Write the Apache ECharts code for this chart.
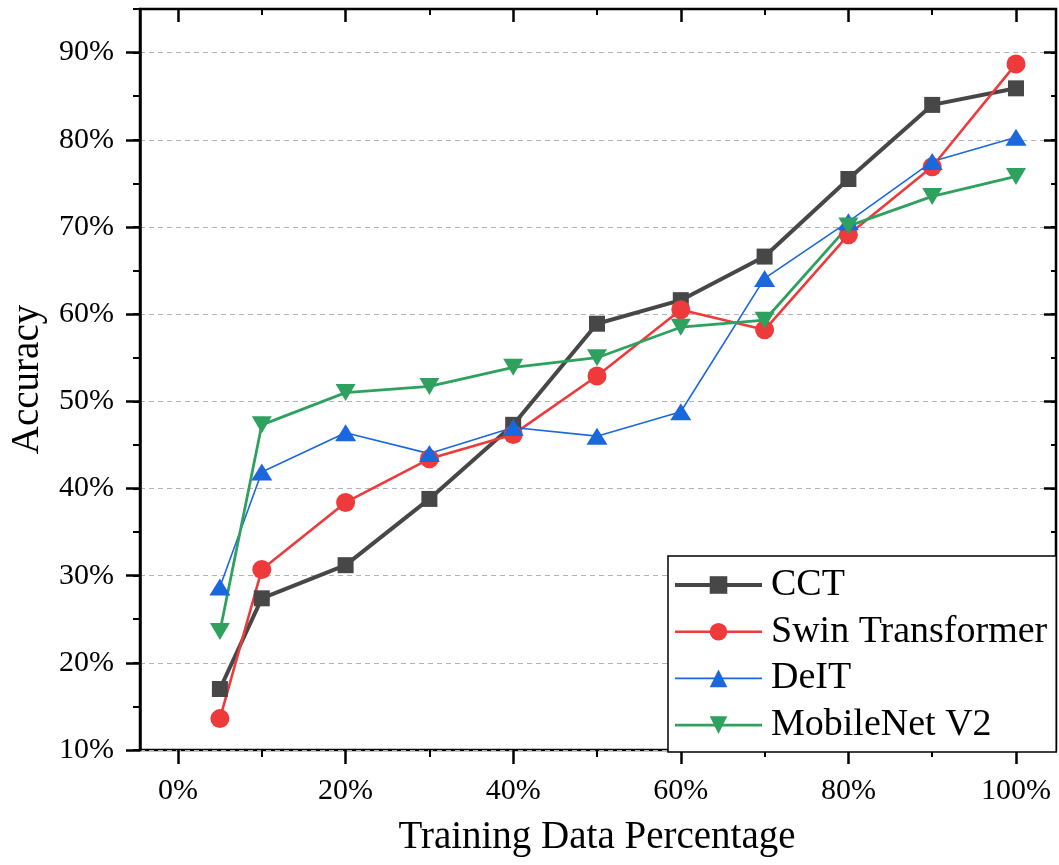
<!DOCTYPE html>
<html>
<head>
<meta charset="utf-8">
<title>Accuracy vs Training Data Percentage</title>
<script src="https://cdn.jsdelivr.net/npm/echarts@6/dist/echarts.min.js"></script>
<style>
  html, body { margin: 0; padding: 0; background: #ffffff; }
  #chart { width: 1059px; height: 865px; }
</style>
</head>
<body>
<div id="chart"></div>
<script>
// Training data share (%) used for each run
const trainingPct = [5, 10, 20, 30, 40, 50, 60, 70, 80, 90, 100];

// Accuracy (%) per model
const cct       = [17.0, 27.4, 31.2, 38.8, 47.3, 58.9, 61.6, 66.6, 75.5, 84.0, 85.9];
const swin      = [13.6, 30.7, 38.4, 43.4, 46.2, 52.9, 60.5, 58.2, 69.1, 76.9, 88.7];
const deit      = [28.7, 41.9, 46.4, 44.0, 47.0, 46.0, 48.8, 64.1, 70.6, 77.5, 80.3];
const mobilenet = [23.6, 47.3, 51.0, 51.7, 53.9, 55.0, 58.5, 59.3, 70.1, 73.5, 75.8];

// Axis ticks
const xTickValues = [0, 20, 40, 60, 80, 100];
const yTickValues = [10, 20, 30, 40, 50, 60, 70, 80, 90];
const pctLabel = v => v + '%';

const FONT = '"Liberation Serif", "Times New Roman", serif';
const pairs = ys => trainingPct.map((x, i) => [x, ys[i]]);

const yMin = 10, yMax = 95;

const chart = echarts.init(document.getElementById('chart'), null, { renderer: 'canvas' });

const majorY = (position, inside, len, withLabels) => ({
  type: 'value', gridIndex: 0, position: position,
  min: yMin, max: yMax, interval: 10,
  axisLine: { show: position === 'left', onZero: false, lineStyle: { color: '#000', width: 2.5 } },
  axisTick: { show: true, inside: inside, length: len, customValues: yTickValues,
              lineStyle: { color: '#000', width: 2.5 } },
  axisLabel: { show: withLabels, customValues: yTickValues,
               formatter: v => (v % 10 === 0 && v <= 90) ? pctLabel(v) : '',
               fontFamily: FONT, fontSize: 30, color: '#000', margin: 26 },
  splitLine: { show: withLabels, lineStyle: { color: '#b4b4b4', width: 1, type: [5, 4] } }
});

const minorY = (position, inside, len) => ({
  type: 'value', gridIndex: 0, position: position,
  min: yMin, max: yMax, interval: 5,
  axisLine: { show: false, onZero: false },
  axisTick: { show: true, inside: inside, length: len, lineStyle: { color: '#000', width: 2 } },
  axisLabel: { show: false },
  splitLine: { show: false }
});

const option = {
  backgroundColor: '#ffffff',
  animation: false,
  grid: [
    // outer frame
    { left: 137, right: 3, top: 9, bottom: 115, show: true,
      borderColor: '#000', borderWidth: 2.5, backgroundColor: 'transparent' },
    // plotting region spanning 0%..100% on x
    { left: 178, right: 43, top: 9, bottom: 115 }
  ],
  xAxis: [
    { type: 'value', gridIndex: 0, min: -5, max: 105, show: false, axisLine: { onZero: false } },
    {
      type: 'value', gridIndex: 1, position: 'bottom',
      min: 0, max: 100, interval: 20,
      name: 'Training Data Percentage', nameLocation: 'middle', nameGap: 68,
      nameTextStyle: { fontFamily: FONT, fontSize: 39, color: '#000' },
      axisLine: { show: false, onZero: false },
      axisTick: { show: true, length: 14, customValues: xTickValues,
                  lineStyle: { color: '#000', width: 2.5 } },
      minorTick: { show: true, splitNumber: 2, length: 7, lineStyle: { color: '#000', width: 2 } },
      axisLabel: { customValues: xTickValues, formatter: pctLabel,
                   fontFamily: FONT, fontSize: 30, color: '#000', margin: 26 },
      splitLine: { show: false }
    },
    {
      type: 'value', gridIndex: 1, position: 'top',
      min: 0, max: 100, interval: 20,
      axisLine: { show: false, onZero: false },
      axisTick: { show: true, inside: true, length: 13, lineStyle: { color: '#000', width: 2.5 } },
      minorTick: { show: true, splitNumber: 2, length: 6, lineStyle: { color: '#000', width: 2 } },
      axisLabel: { show: false },
      splitLine: { show: false }
    }
  ],
  yAxis: [
    Object.assign(majorY('left', false, 14, true), {
      name: 'Accuracy', nameLocation: 'middle', nameGap: 93,
      nameTextStyle: { fontFamily: FONT, fontSize: 39, color: '#000' }
    }),
    minorY('left', false, 7),
    majorY('right', true, 12, false),
    minorY('right', true, 5),
    { type: 'value', gridIndex: 1, min: yMin, max: yMax, show: false, axisLine: { onZero: false } }
  ],
  legend: {
    orient: 'vertical',
    left: 668, top: 556,
    padding: [7, 9, 5, 5],
    itemGap: 2.7,
    itemWidth: 87,
    itemHeight: 22,
    backgroundColor: '#ffffff',
    borderColor: '#000',
    borderWidth: 1.5,
    borderRadius: 0,
    lineStyle: { width: 'inherit' },
    textStyle: { fontFamily: FONT, fontSize: 38, color: '#000', lineHeight: 44, padding: [0, 0, 0, 4] },
    data: ['CCT', 'Swin Transformer', 'DeIT', 'MobileNet V2']
  },
  series: [
    {
      name: 'CCT', type: 'line', xAxisIndex: 1, yAxisIndex: 4,
      data: pairs(cct),
      symbol: 'rect', symbolSize: 16,
      lineStyle: { color: '#474747', width: 4 },
      itemStyle: { color: '#474747' }
    },
    {
      name: 'Swin Transformer', type: 'line', xAxisIndex: 1, yAxisIndex: 4,
      data: pairs(swin),
      symbol: 'circle', symbolSize: 19,
      lineStyle: { color: '#ee3a3a', width: 2.6 },
      itemStyle: { color: '#ee3a3a' }
    },
    {
      name: 'DeIT', type: 'line', xAxisIndex: 1, yAxisIndex: 4,
      data: pairs(deit),
      symbol: 'triangle', symbolSize: [21, 17],
      lineStyle: { color: '#1b67dd', width: 1.6 },
      itemStyle: { color: '#1b67dd' }
    },
    {
      name: 'MobileNet V2', type: 'line', xAxisIndex: 1, yAxisIndex: 4,
      data: pairs(mobilenet),
      symbol: 'path://M0,0 L20,0 L10,17 Z', symbolSize: [20, 17], symbolKeepAspect: false,
      lineStyle: { color: '#2ea15e', width: 2.8 },
      itemStyle: { color: '#2ea15e' }
    }
  ]
};

chart.setOption(option);
</script>
</body>
</html>
